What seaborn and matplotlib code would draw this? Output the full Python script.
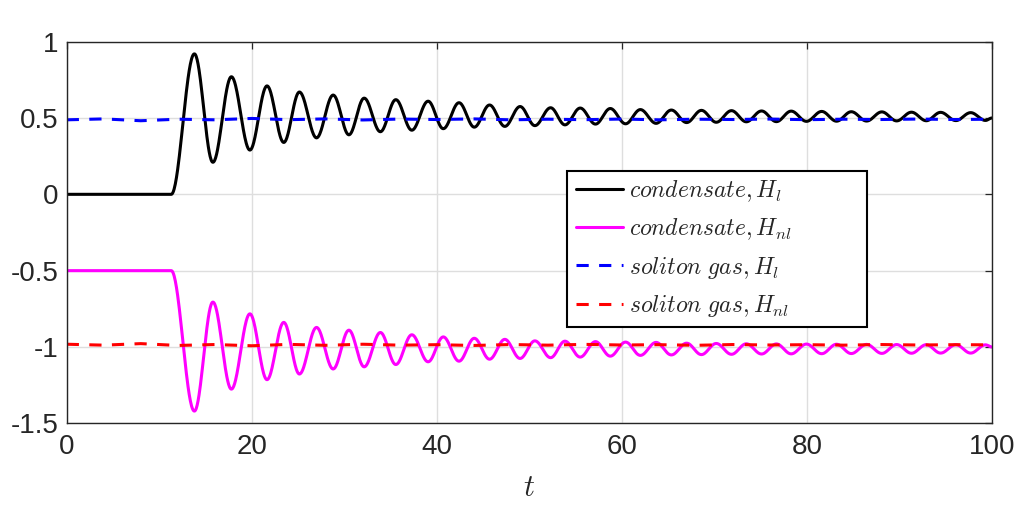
import numpy as np
import pandas as pd
import matplotlib
matplotlib.use("Agg")
import matplotlib.pyplot as plt
import seaborn as sns

# extrema of the condensate curves (times shared by both)
t_ext = [0, 11.3, 13.8, 15.8, 17.8, 19.8, 21.65, 23.46, 25.15, 27.0,
         28.8, 30.5, 32.15, 33.9, 35.57, 37.3, 39.06, 40.7, 42.4, 44.05,
         45.7, 47.35, 49.0, 50.6, 52.3, 53.85, 55.5, 57.15, 58.75, 60.4,
         62.0, 63.7, 65.35, 67.0, 68.6, 70.2, 71.85, 73.45, 75.1, 76.7,
         78.3, 79.95, 81.6, 83.2, 84.8, 86.45, 88.1, 89.7, 91.3, 92.9,
         94.45, 96.1, 97.7, 99.3, 100]
cond_hl = [0, 0, 0.92, 0.21, 0.77, 0.29, 0.71, 0.34, 0.67, 0.37,
           0.65, 0.39, 0.63, 0.41, 0.62, 0.42, 0.61, 0.43, 0.60, 0.44,
           0.585, 0.445, 0.575, 0.45, 0.567, 0.455, 0.565, 0.46, 0.562, 0.462,
           0.555, 0.465, 0.552, 0.47, 0.55, 0.472, 0.548, 0.475, 0.546, 0.476,
           0.545, 0.478, 0.543, 0.479, 0.541, 0.48, 0.54, 0.481, 0.538, 0.482,
           0.537, 0.483, 0.535, 0.484, 0.50]
cond_hnl = [-0.5, -0.5, -1.42, -0.706, -1.276, -0.783, -1.214, -0.839, -1.177, -0.872,
            -1.144, -0.89, -1.13, -0.905, -1.115, -0.92, -1.097, -0.934, -1.093, -0.943,
            -1.08, -0.95, -1.075, -0.96, -1.07, -0.962, -1.066, -0.965, -1.06, -0.968,
            -1.055, -0.97, -1.052, -0.975, -1.05, -0.977, -1.048, -0.979, -1.046, -0.98,
            -1.045, -0.981, -1.044, -0.982, -1.043, -0.983, -1.042, -0.984, -1.041, -0.985,
            -1.04, -0.985, -1.04, -0.986, -1.0]

# soliton gas curves, sampled every 4 time units
t_sol = [0, 4, 8, 12, 16, 20, 24, 28, 32, 36, 40, 44, 48, 52, 56, 60,
         64, 68, 72, 76, 80, 84, 88, 92, 96, 100]
sol_hl = [0.488, 0.494, 0.482, 0.492, 0.488, 0.497, 0.489, 0.494, 0.487, 0.493,
          0.490, 0.494, 0.488, 0.492, 0.489, 0.493, 0.488, 0.492, 0.490, 0.493,
          0.489, 0.492, 0.490, 0.493, 0.490, 0.492]
sol_hnl = [-0.982, -0.988, -0.978, -0.990, -0.984, -0.992, -0.983, -0.989, -0.982, -0.988,
           -0.985, -0.990, -0.984, -0.988, -0.983, -0.987, -0.985, -0.989, -0.984, -0.987,
           -0.985, -0.988, -0.984, -0.987, -0.985, -0.986]

labels = [r"$condensate, H_l$", r"$condensate, H_{nl}$",
          r"$soliton\ gas, H_l$", r"$soliton\ gas, H_{nl}$"]


def through_extrema(ts, vs, n=40):
    # join consecutive extrema with half-cosine arcs
    xs, ys = [], []
    for i in range(len(ts) - 1):
        s = np.linspace(0, 1, n, endpoint=False)
        xs.append(ts[i] + (ts[i + 1] - ts[i]) * s)
        ys.append(vs[i] + (vs[i + 1] - vs[i]) * (1 - np.cos(np.pi * s)) / 2)
    xs.append([ts[-1]])
    ys.append([vs[-1]])
    return np.concatenate(xs), np.concatenate(ys)


frames = []
for name, vals in [(labels[0], cond_hl), (labels[1], cond_hnl)]:
    x, y = through_extrema(t_ext, vals)
    frames.append(pd.DataFrame({"t": x, "H": y, "series": name}))
frames.append(pd.DataFrame({"t": t_sol, "H": sol_hl, "series": labels[2]}))
frames.append(pd.DataFrame({"t": t_sol, "H": sol_hnl, "series": labels[3]}))
df = pd.concat(frames, ignore_index=True)

sns.set_style("white")
plt.rcParams["font.family"] = ["Liberation Sans", "DejaVu Sans"]
plt.rcParams["mathtext.fontset"] = "cm"
plt.rcParams["axes.unicode_minus"] = False

fig = plt.figure(figsize=(10.2, 5.08), dpi=100)
ax = fig.add_axes([0.0654, 0.1667, 0.9071, 0.7513])

colors = {labels[0]: "black", labels[1]: "#ff00ff",
          labels[2]: "#0000ff", labels[3]: "#ff0000"}
dashes = {labels[0]: "", labels[1]: "", labels[2]: (4.0, 3.4), labels[3]: (4.0, 3.4)}

sns.lineplot(data=df, x="t", y="H", hue="series", style="series",
             palette=colors, dashes=dashes, hue_order=labels, style_order=labels,
             estimator=None, sort=False, linewidth=2.2, ax=ax, legend=False)

ax.set_xlim(0, 100)
ax.set_ylim(-1.5, 1)
ax.set_xticks([0, 20, 40, 60, 80, 100])
ax.set_yticks([-1.5, -1, -0.5, 0, 0.5, 1])
ax.set_yticklabels(["-1.5", "-1", "-0.5", "0", "0.5", "1"])
ax.grid(True, color="#dedede", linewidth=1.0)
ax.set_axisbelow(True)
ax.tick_params(direction="in", length=5, width=0.9, top=True, right=True,
               labelsize=20, colors="#262626", pad=6)
ax.tick_params(axis="x", pad=8)
for sp in ax.spines.values():
    sp.set_color("#262626")
    sp.set_linewidth(1.0)
ax.set_xlabel(r"$t$", fontsize=22, labelpad=9)
ax.set_ylabel("")

# legend handles matching the drawn lines; trailing blanks widen the box like the original
handles = []
for lab in labels:
    ls = "-" if dashes[lab] == "" else (0, dashes[lab])
    h, = ax.plot([], [], color=colors[lab], linestyle=ls, linewidth=2.2)
    handles.append(h)
leg_labels = [lab + "\u00a0" * 11 for lab in labels]
leg = ax.legend(handles, leg_labels, loc="lower left", bbox_to_anchor=(0.541, 0.252),
                fontsize=17, frameon=True, fancybox=False, framealpha=1,
                edgecolor="black", handlelength=2.0, handletextpad=0.25,
                labelspacing=0.52, borderpad=0.35, borderaxespad=0)
leg.get_frame().set_linewidth(1.5)

fig.savefig("out.png", dpi=100)
